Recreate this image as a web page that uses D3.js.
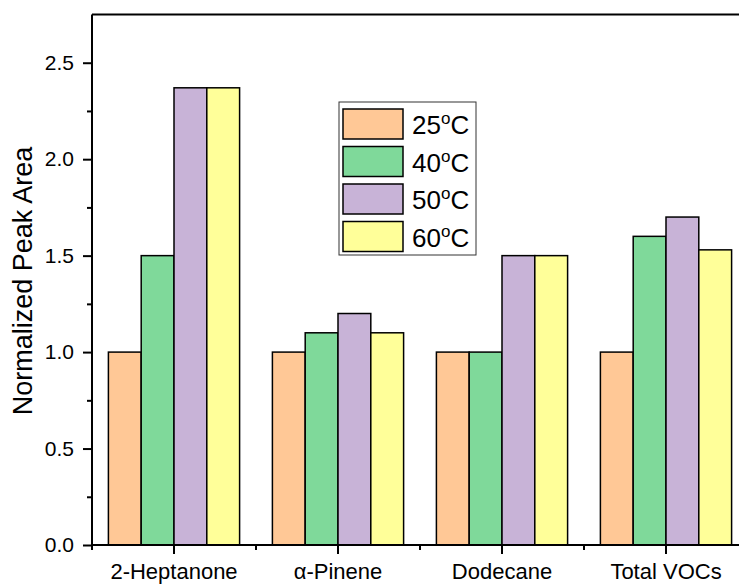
<!DOCTYPE html>
<html>
<head>
<meta charset="utf-8">
<script src="https://cdn.jsdelivr.net/npm/d3@7"></script>
<style>
  body { margin: 0; background: #fff; }
  text { font-family: Arial, "Liberation Sans", sans-serif; fill: #000; }
</style>
</head>
<body>
<div id="chart"></div>
<script>
// data
var categories = ['2-Heptanone', 'α-Pinene', 'Dodecane', 'Total VOCs'];
var seriesNames = ['25', '40', '50', '60'];
var values25 = [1.0, 1.0, 1.0, 1.0];
var values40 = [1.5, 1.1, 1.0, 1.6];
var values50 = [2.37, 1.2, 1.5, 1.7];
var values60 = [2.37, 1.1, 1.5, 1.53];
var seriesColors = ['#FFC896', '#7FD99A', '#C8B3D7', '#FFFF99'];
var yTicks = [0, 0.5, 1.0, 1.5, 2.0, 2.5];
var yMinorTicks = [0.25, 0.75, 1.25, 1.75, 2.25];

var allValues = [values25, values40, values50, values60];

var svgWidth = 739;
var svgHeight = 586;

// plot box (right side runs past the window, like the reference)
var plotLeft = 92, plotRight = 748, plotTop = 14.5, plotBottom = 545;

var svg = d3.select('#chart')
    .append('svg')
    .attr('width', svgWidth)
    .attr('height', svgHeight);

var x = d3.scaleBand()
    .domain(categories)
    .range([plotLeft, plotRight]);

var xInner = d3.scaleBand()
    .domain(seriesNames)
    .range([x.bandwidth() * 0.1, x.bandwidth() * 0.9]);

var y = d3.scaleLinear()
    .domain([0, 2.75])
    .range([plotBottom, plotTop]);

// bars
var rows = [];
categories.forEach(function(c, i) {
    seriesNames.forEach(function(s, j) {
        rows.push({cat: c, s: s, v: allValues[j][i], color: seriesColors[j]});
    });
});

svg.append('g').selectAll('rect')
    .data(rows)
    .enter()
    .append('rect')
    .attr('x', d => x(d.cat) + xInner(d.s))
    .attr('y', d => y(d.v))
    .attr('width', xInner.bandwidth())
    .attr('height', d => y(0) - y(d.v))
    .attr('fill', d => d.color)
    .attr('stroke', '#000')
    .attr('stroke-width', 1.5);

// y axis
var yAxis = d3.axisLeft(y)
    .tickValues(yTicks)
    .tickFormat(d3.format('.1f'))
    .tickSize(9)
    .tickPadding(9);

var yg = svg.append('g')
    .attr('transform', `translate(${plotLeft}, 0)`)
    .call(yAxis);
yg.select('.domain').remove();
yg.selectAll('line').attr('stroke-width', 2);
yg.selectAll('text').style('font-size', '21px').style('font-family', 'Arial, "Liberation Sans", sans-serif');

var yMinor = svg.append('g')
    .attr('transform', `translate(${plotLeft}, 0)`)
    .call(d3.axisLeft(y).tickValues(yMinorTicks).tickSize(5).tickFormat(''));
yMinor.select('.domain').remove();
yMinor.selectAll('line').attr('stroke-width', 2);

// x axis
var xAxis = d3.axisBottom(x)
    .tickSize(9)
    .tickPadding(9);

var xg = svg.append('g')
    .attr('transform', `translate(0, ${plotBottom})`)
    .call(xAxis);
xg.select('.domain').remove();
xg.selectAll('line').attr('stroke-width', 2);
xg.selectAll('text').style('font-size', '22px').style('font-family', 'Arial, "Liberation Sans", sans-serif');

// minor x ticks on band edges
var edges = categories.map(c => x(c)).concat([plotRight]);
svg.append('g').selectAll('line')
    .data(edges)
    .enter()
    .append('line')
    .attr('x1', d => d).attr('x2', d => d)
    .attr('y1', plotBottom).attr('y2', plotBottom + 5)
    .attr('stroke', '#000')
    .attr('stroke-width', 2);

// frame lines
svg.append('line')
    .attr('x1', plotLeft).attr('x2', plotRight)
    .attr('y1', plotBottom).attr('y2', plotBottom)
    .attr('stroke', '#000').attr('stroke-width', 2);
svg.append('line')
    .attr('x1', plotLeft).attr('x2', plotLeft)
    .attr('y1', plotTop).attr('y2', plotBottom)
    .attr('stroke', '#000').attr('stroke-width', 2);
svg.append('line')
    .attr('x1', plotLeft).attr('x2', plotRight)
    .attr('y1', plotTop).attr('y2', plotTop)
    .attr('stroke', '#000').attr('stroke-width', 2);

// y title
svg.append('text')
    .attr('transform', 'translate(32, 281) rotate(-90)')
    .attr('text-anchor', 'middle')
    .style('font-size', '27px')
    .text('Normalized Peak Area');

// legend
var legend = svg.append('g').attr('transform', 'translate(339, 102)');
legend.append('rect')
    .attr('width', 137).attr('height', 153)
    .attr('fill', '#fff')
    .attr('stroke', '#333').attr('stroke-width', 1);

var items = legend.selectAll('g.item')
    .data(seriesNames)
    .enter()
    .append('g')
    .attr('class', 'item')
    .attr('transform', (d, i) => `translate(0, ${7 + i * 37.5})`);

items.append('rect')
    .attr('x', 4).attr('width', 60).attr('height', 30)
    .attr('fill', (d, i) => seriesColors[i])
    .attr('stroke', '#000').attr('stroke-width', 1.5);

var lt = items.append('text')
    .attr('x', 73).attr('y', 25)
    .style('font-size', '26px');
lt.append('tspan').text(d => d);
lt.append('tspan').attr('dy', -10).style('font-size', '17px').text('o');
lt.append('tspan').attr('dy', 10).text('C');
</script>
</body>
</html>
